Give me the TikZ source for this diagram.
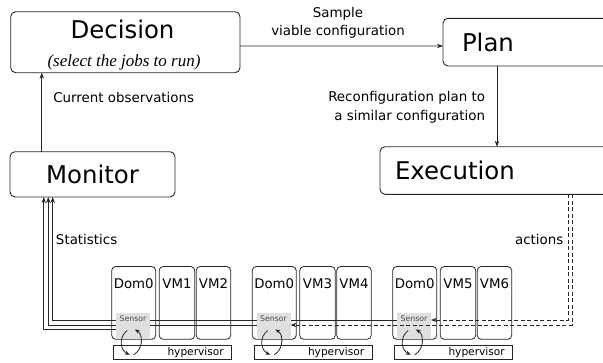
\documentclass[tikz,border=0pt]{standalone}
\usepackage{fontspec}
\setmainfont{DejaVu Sans}
\newfontfamily\serifit{Liberation Serif}
\usetikzlibrary{arrows.meta,calc,backgrounds}
\begin{document}
\begin{tikzpicture}[x=1pt,y=-1pt,
  every node/.style={inner sep=0pt, outer sep=0pt},
  bigfont/.style={font=\fontsize{24.4}{28}\selectfont},
  midfont/.style={font=\fontsize{13.4}{17.8}\selectfont},
  bigbox/.style={draw=black!85, line width=0.9pt, rounded corners=5pt, anchor=north west, bigfont},
  vmbox/.style={draw=black!85, line width=0.8pt, rounded corners=4pt, anchor=north west,
    minimum height=72.8pt, text height=21.8pt, text depth=51pt, font=\fontsize{13.3}{16}\selectfont},
  sensorbox/.style={fill=black!12, anchor=north west, minimum width=34pt, minimum height=25.6pt,
    text height=8.8pt, text depth=16.8pt, font=\fontsize{7.8}{9}\selectfont, text=black!70},
  hypbox/.style={draw=black!85, line width=0.8pt, anchor=north west, minimum width=118pt,
    minimum height=14.7pt, inner xsep=8pt, text width=102pt, align=right, font=\fontsize{10.6}{12}\selectfont},
  conn/.style={draw=black!85, line width=0.8pt, -{Stealth[length=6pt,width=4.5pt]}},
  dconn/.style={conn, dash pattern=on 4pt off 2.5pt},
  loopar/.style={draw=black!85, line width=0.8pt, -{Stealth[length=5pt,width=4pt]}}
]
\useasboundingbox (0,0) rectangle (603,362);

% main boxes
\node[bigbox, minimum width=229.3pt, minimum height=61pt] (decision) at (10.7,11.7) {};
\node[anchor=base, bigfont] (dectitle) at (122.5,38.3) {Decision};
\node[anchor=base, font=\serifit\itshape\fontsize{17}{20}\selectfont] (decsub) at (124,66) {(select the jobs to run)};
\node[bigbox, minimum width=300pt, minimum height=47.7pt, inner xsep=19pt, text width=262pt, align=left] (plan) at (443,18.3) {Plan};
\node[bigbox, minimum width=165pt, minimum height=45.3pt] (monitor) at (10,151.7) {Monitor};
\node[bigbox, minimum width=320pt, minimum height=47.6pt, inner xsep=15pt, text width=290pt, align=left] (execution) at (380,146.7) {Execution};

% upper connectors
\draw[conn] ([yshift=-3.8pt]decision.east) -- ([yshift=-3.8pt]plan.west);
\node[midfont, align=center] (samplelbl) at (338,23.2) {Sample\\viable configuration};
\coordinate (pe) at (497,0);
\draw[conn] (plan.south -| pe) -- (execution.north -| pe);
\node[align=right, anchor=east, font=\fontsize{13.4}{18.7}\selectfont] (reconflbl) at (485,107.4) {Reconfiguration plan to\\a similar configuration};
\coordinate (md) at (41.8,0);
\draw[conn] (monitor.north -| md) -- (decision.south -| md);
\node[midfont, anchor=base west] (obslbl) at (53.3,102.7) {Current observations};
\node[midfont, anchor=base west] (statlbl) at (56,244) {Statistics};
\node[midfont, anchor=base east] (actlbl) at (563.3,244) {actions};

% machines
\foreach \g/\x/\va/\vb in {1/111.7/VM1/VM2, 2/252.2/VM3/VM4, 3/392.7/VM5/VM6} {
  \node[vmbox, minimum width=44pt] (dom\g) at (\x,266.5) {Dom0};
  \node[vmbox, minimum width=35.5pt] (vma\g) at (\x+47.5,266.5) {\va};
  \node[vmbox, minimum width=34.5pt] (vmb\g) at (\x+84.5,266.5) {\vb};
  \node[hypbox] (hyp\g) at (\x+2,345) {hypervisor};
  \node[sensorbox] (sensor\g) at (\x+4.3,313) {Sensor};
}

% statistics lines (behind sensors)
\coordinate (m1) at (43.8,0);
\coordinate (m2) at (48.3,0);
\coordinate (m3) at (52.7,0);
\coordinate (ex1) at (568,0);
\coordinate (ex2) at (572.2,0);
\begin{scope}[on background layer]
\draw[conn] ([xshift=2pt]sensor1.west |- 0,329.5) -| (monitor.south -| m1);
\draw[conn] ([xshift=2pt]sensor2.west |- 0,325) -| (monitor.south -| m2);
\draw[conn] ([xshift=2pt]sensor3.west |- 0,320.5) -| (monitor.south -| m3);
\end{scope}

% actions lines
\draw[dconn] (execution.south -| ex1) |- (sensor3.east |- 0,320);
\draw[dconn] (execution.south -| ex2) |- (sensor2.east |- 0,325);

% loops between sensor and hypervisor
\foreach \g in {1,2,3} {
  \draw[loopar] ($(sensor\g.north west)+(11.2,17.5)$) .. controls ($(sensor\g.north west)+(2.5,24)$) and ($(sensor\g.north west)+(4,37)$) .. ($(hyp\g.north west)+(16,9.8)$);
  \draw[loopar] ($(hyp\g.north west)+(20,9.8)$) .. controls ($(hyp\g.north west)+(30,4)$) and ($(sensor\g.north west)+(27,21)$) .. ($(sensor\g.north west)+(18.7,16.5)$);
}
\end{tikzpicture}
\end{document}
